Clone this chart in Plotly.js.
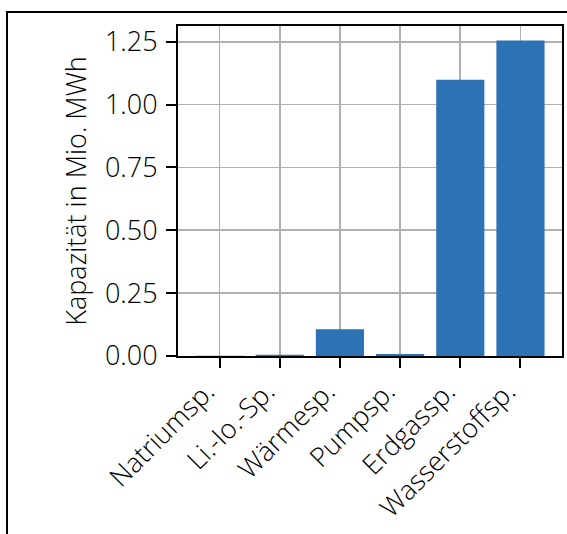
<!DOCTYPE html>
<html>
<head>
<meta charset="utf-8">
<script src="https://cdn.plot.ly/plotly-3.0.1.min.js"></script>
<style>
  html, body { margin: 0; padding: 0; background: #ffffff; overflow: hidden; }
  #chart { width: 567px; height: 534px; }
</style>
</head>
<body>
<div id="chart"></div>
<script>
// Data
const categories = ["Natriumsp.", "Li.-Io.-Sp.", "Wärmesp.", "Pumpsp.", "Erdgassp.", "Wasserstoffsp."];
const capacity = [0.0005, 0.005, 0.106, 0.008, 1.099, 1.255];
const yTickValues = [0, 0.25, 0.5, 0.75, 1.0, 1.25];
const yTickLabels = ["0.00", "0.25", "0.50", "0.75", "1.00", "1.25"];
const yAxisTitle = "Kapazität in Mio. MWh";

const FONT = "Open Sans, Noto Sans, sans-serif";
const TXT = "#000000";

const trace = {
  type: "bar",
  x: categories.map((_, i) => i),
  y: capacity,
  width: 0.8,
  marker: { color: "#2d72b4", line: { width: 0 } },
  hoverinfo: "x+y"
};

const layout = {
  width: 567,
  height: 534,
  margin: { l: 178, r: 5, t: 26, b: 178 },
  paper_bgcolor: "#ffffff",
  plot_bgcolor: "#ffffff",
  showlegend: false,
  font: { family: FONT, color: TXT, size: 27, weight: 300 },
  xaxis: {
    range: [-0.69, 5.69],
    tickmode: "array",
    tickvals: categories.map((_, i) => i),
    ticktext: categories,
    tickangle: -45,
    ticklabelshift: -13,
    ticklabelstandoff: -3,
    ticks: "outside",
    ticklen: 10,
    tickwidth: 2,
    tickcolor: "#000000",
    showgrid: true,
    gridcolor: "#b0b0b0",
    gridwidth: 1.6,
    showline: true,
    linecolor: "#000000",
    linewidth: 2,
    mirror: true,
    zeroline: false,
    tickfont: { family: FONT, size: 27, color: TXT, weight: 300 },
    layer: "below traces"
  },
  yaxis: {
    range: [0, 1.3125],
    tickmode: "array",
    tickvals: yTickValues,
    ticktext: yTickLabels,
    ticks: "outside",
    ticklen: 10,
    tickwidth: 2,
    tickcolor: "#000000",
    ticklabelstandoff: 3,
    showgrid: true,
    gridcolor: "#b0b0b0",
    gridwidth: 1.6,
    showline: true,
    linecolor: "#000000",
    linewidth: 2,
    mirror: true,
    zeroline: false,
    tickfont: { family: FONT, size: 27, color: TXT, weight: 300 },
    title: { text: yAxisTitle, font: { family: FONT, size: 27, color: TXT, weight: 300 }, standoff: 10 },
    layer: "below traces"
  },
  shapes: [{
    type: "rect",
    xref: "paper", yref: "paper",
    x0: -0.4453, x1: 2, y0: -1, y1: 1.0424,
    line: { color: "#000000", width: 2 },
    fillcolor: "rgba(0,0,0,0)",
    layer: "above"
  }]
};

Plotly.newPlot("chart", [trace], layout, { displayModeBar: false, staticPlot: true });
</script>
</body>
</html>
